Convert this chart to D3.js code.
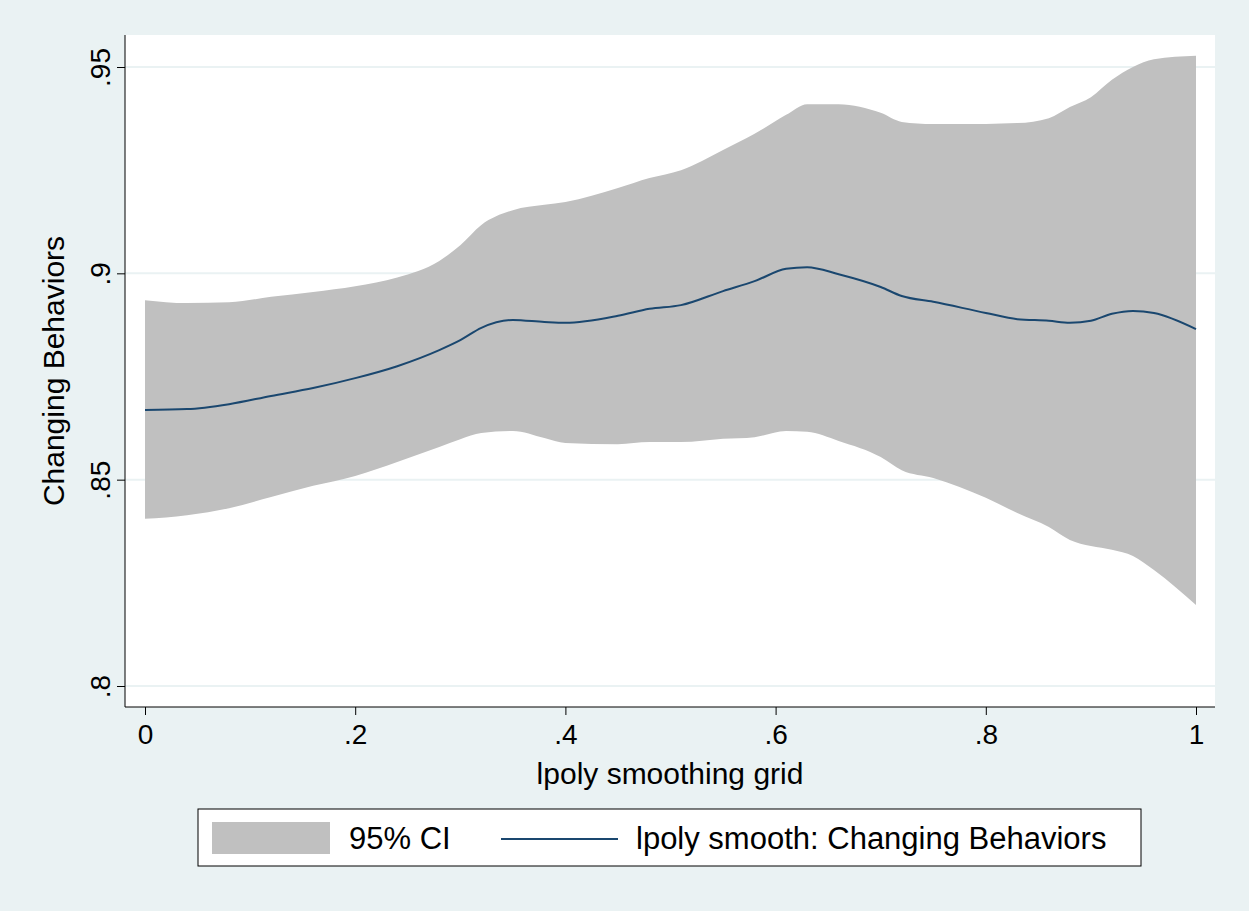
<!DOCTYPE html><html><head><meta charset="utf-8"><script src="https://cdn.jsdelivr.net/npm/d3@7"></script>
<style>body{margin:0;background:#fff}text{font-family:Arial,"Liberation Sans",sans-serif}</style></head><body><svg id="c" width="1249" height="911"></svg>
<script>
const xs   =[0,.04,.08,.12,.16,.2,.24,.28,.30,.32,.35,.38,.40,.45,.48,.51,.55,.58,.61,.63,.66,.70,.72,.75,.80,.83,.86,.88,.90,.92,.94,.96,1];
const fit  =[.8669,.8671,.8683,.8703,.8722,.8746,.8775,.8814,.8838,.8868,.8887,.8882,.8880,.8897,.8914,.8923,.8957,.8981,.9011,.9015,.8998,.8967,.8945,.8931,.8904,.8889,.8885,.8880,.8885,.8902,.8909,.8904,.8865];
const upper=[.8935,.8928,.8930,.8943,.8955,.8969,.8990,.9030,.9068,.9117,.9153,.9166,.9173,.9207,.9231,.9250,.9299,.9338,.9384,.9410,.9410,.9389,.9367,.9362,.9362,.9364,.9376,.9403,.9427,.9469,.9500,.9519,.9527];
const lower=[.8405,.8414,.8431,.8458,.8485,.8509,.8543,.8579,.8598,.8613,.8618,.8601,.8589,.8586,.8591,.8591,.8599,.8603,.8618,.8616,.8594,.8555,.8523,.8504,.8456,.8419,.8385,.8354,.8339,.8330,.8315,.8281,.8196];
const xTicks=[0,.2,.4,.6,.8,1], yTicks=[.8,.85,.9,.95];
const fmt=v=>v===0?"0":v===1?"1":String(v).replace(/^0/,"");
const svg=d3.select("#c");
svg.append("rect").attr("width",1249).attr("height",911).attr("fill","#eaf2f3");
svg.append("rect").attr("x",125).attr("y",35).attr("width",1090).attr("height",672).attr("fill","#fff");
const x=d3.scaleLinear().domain([0,1]).range([145,1196]);
const y=d3.scaleLinear().domain([.8,.95]).range([686,67]);
svg.selectAll(".g").data(yTicks).join("line").attr("x1",125).attr("x2",1215).attr("y1",d=>y(d)).attr("y2",d=>y(d)).attr("stroke","#eaf2f3").attr("stroke-width",2);
const d=xs.map((v,i)=>({x:v,f:fit[i],u:upper[i],l:lower[i]}));
svg.append("path").datum(d).attr("d",d3.area().x(p=>x(p.x)).y0(p=>y(p.l)).y1(p=>y(p.u)).curve(d3.curveMonotoneX)).attr("fill","#c0c0c0");
svg.append("path").datum(d).attr("d",d3.line().x(p=>x(p.x)).y(p=>y(p.f)).curve(d3.curveMonotoneX)).attr("fill","none").attr("stroke","#1a476f").attr("stroke-width",2);
const ax=svg.append("g").attr("transform","translate(0,707)").call(d3.axisBottom(x).tickValues(xTicks).tickFormat(fmt).tickSize(8).tickSizeOuter(0));
ax.select(".domain").attr("d","M125,0H1215");
ax.selectAll("text").attr("font-size",28).attr("fill","#000").attr("y",12).attr("dy","0.9em");
const ay=svg.append("g").attr("transform","translate(125,0)").call(d3.axisLeft(y).tickValues(yTicks).tickFormat(fmt).tickSize(8).tickSizeOuter(0));
ay.select(".domain").attr("d","M0,35V707");
ay.selectAll(".tick text").attr("font-size",28).attr("fill","#000").attr("transform","rotate(-90)").attr("x",0).attr("y",-15).attr("dy",0).attr("text-anchor","middle");
svg.selectAll(".domain,.tick line").attr("stroke","#000");
svg.append("text").attr("x",670).attr("y",784).attr("text-anchor","middle").attr("font-size",30).text("lpoly smoothing grid");
svg.append("text").attr("transform","translate(64,371) rotate(-90)").attr("text-anchor","middle").attr("font-size",30).text("Changing Behaviors");
svg.append("rect").attr("x",198).attr("y",809).attr("width",943).attr("height",57).attr("fill","#fff").attr("stroke","#000");
svg.append("rect").attr("x",212).attr("y",822).attr("width",118).attr("height",32).attr("fill","#c0c0c0");
svg.append("text").attr("x",349).attr("y",849).attr("font-size",31).text("95% CI");
svg.append("line").attr("x1",501).attr("x2",618).attr("y1",839).attr("y2",839).attr("stroke","#1a476f").attr("stroke-width",2);
svg.append("text").attr("x",636).attr("y",849).attr("font-size",31).text("lpoly smooth: Changing Behaviors");
</script></body></html>
